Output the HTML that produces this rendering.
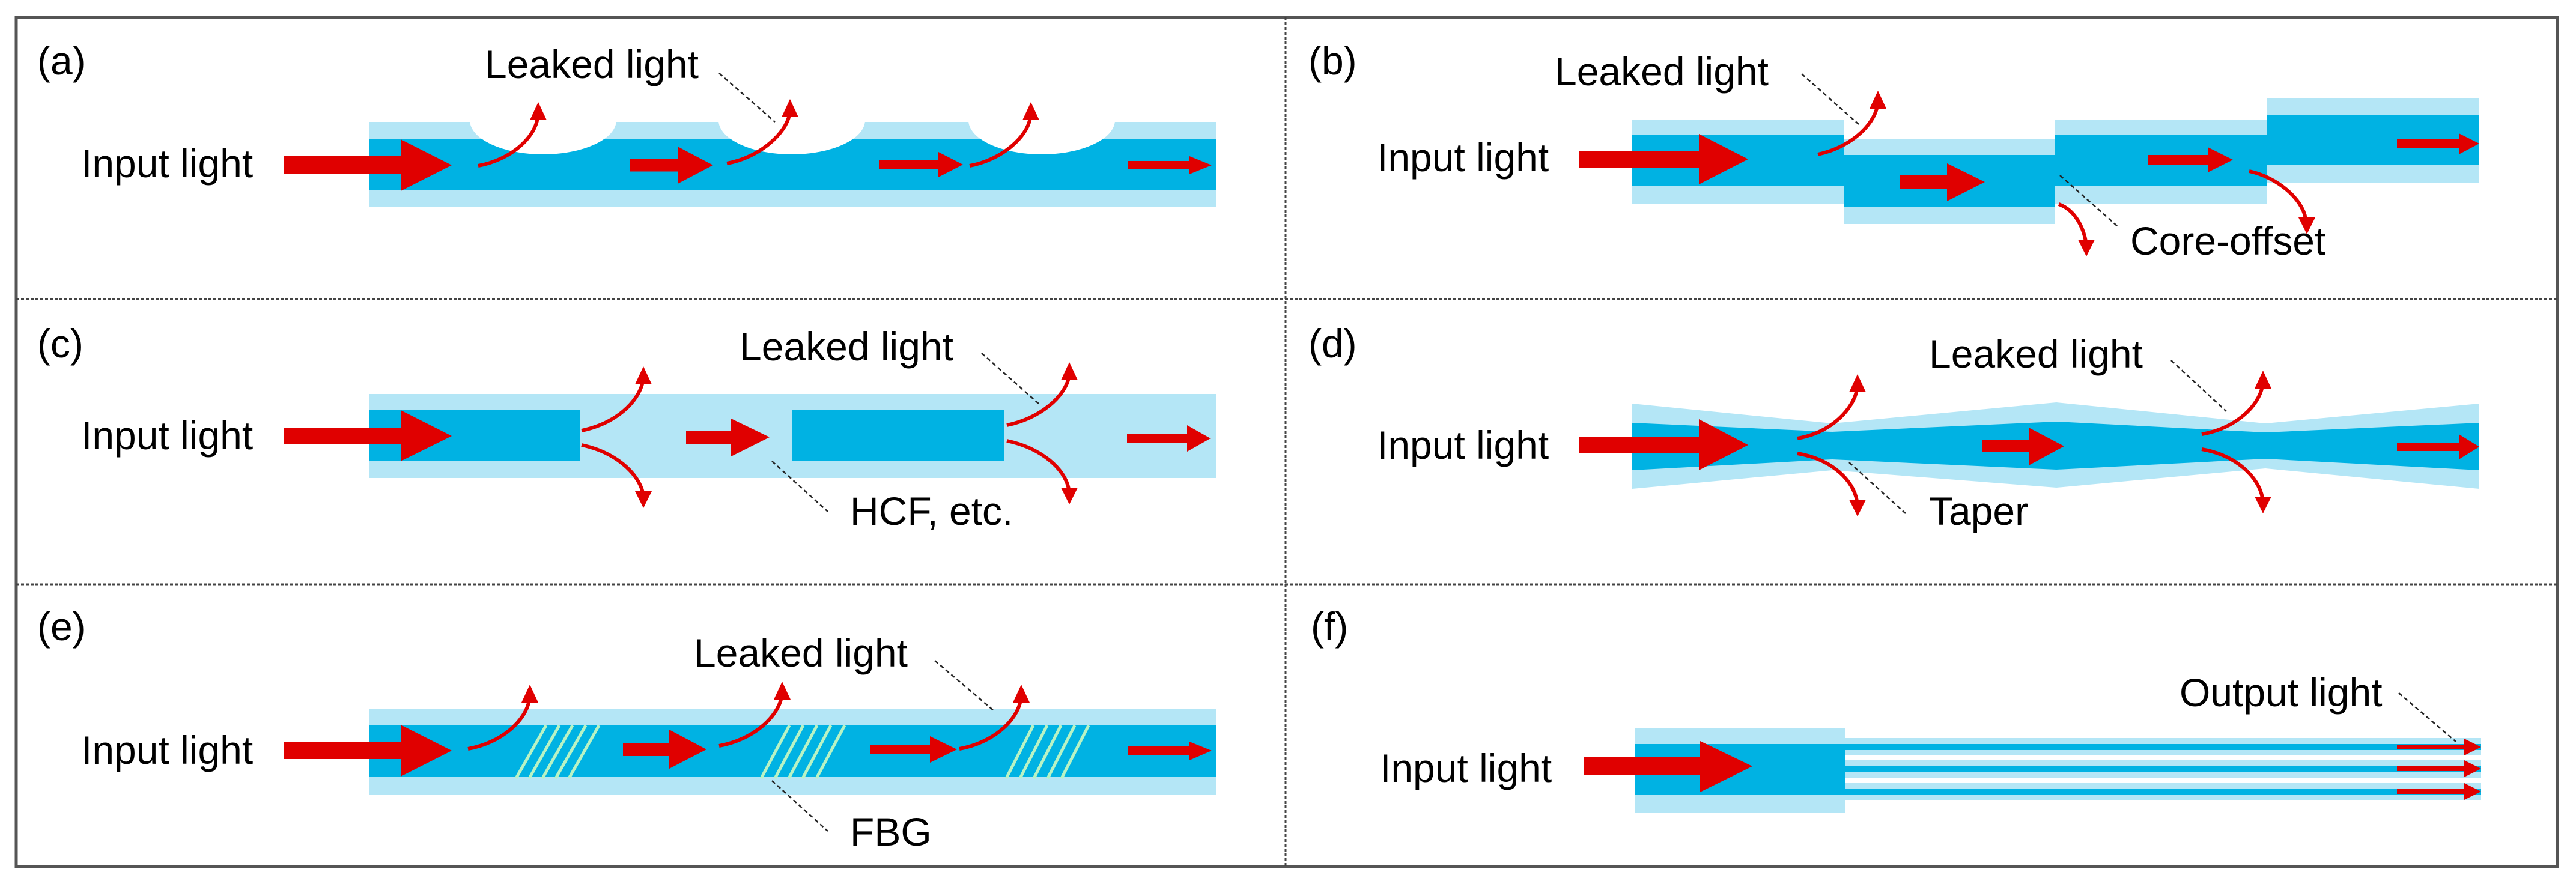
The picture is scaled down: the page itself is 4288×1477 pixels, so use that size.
<!DOCTYPE html>
<html><head><meta charset="utf-8"><style>
html,body{margin:0;padding:0;background:#fff;}
svg{display:block;}
text{font-family:"Liberation Sans",Arial,sans-serif;font-size:66px;fill:#000;}
</style></head><body>
<svg width="4288" height="1477" viewBox="0 0 4288 1477" xmlns="http://www.w3.org/2000/svg">
<defs>
<g id="upA"><polygon points="0,0 -14,30 14,30" fill="#e00000"/></g>
</defs>
<rect x="0" y="0" width="4288" height="1477" fill="#fff"/>
<!-- frame -->
<rect x="27" y="29" width="4230" height="1414" fill="none" stroke="#555" stroke-width="5"/>
<g stroke="#444" stroke-width="3" stroke-dasharray="5,3" fill="none">
<line x1="2140" y1="29" x2="2140" y2="1443"/>
<line x1="27" y1="498" x2="4257" y2="498"/>
<line x1="27" y1="973" x2="4257" y2="973"/>
</g>

<!-- ===== (a) ===== -->
<text x="62" y="124">(a)</text>
<text x="807" y="130">Leaked light</text>
<text x="135" y="295">Input light</text>
<rect x="615" y="203" width="1409" height="142" fill="#b4e6f6"/>
<rect x="615" y="232" width="1409" height="84" fill="#00b2e3"/>
<ellipse cx="904" cy="200" rx="122" ry="57" fill="#fff"/>
<ellipse cx="1318" cy="200" rx="122" ry="57" fill="#fff"/>
<ellipse cx="1734" cy="200" rx="122" ry="57" fill="#fff"/>
<rect x="615" y="150" width="1409" height="53" fill="#fff"/>
<g id="arrA" fill="#e00000">
<polygon points="472,260 667,260 667,232 752,275 667,318 667,289 472,289"/>
<polygon points="1049,264.5 1128,264.5 1128,244 1187,275 1128,306 1128,285.5 1049,285.5"/>
<polygon points="1463,266 1562,266 1562,253 1603,274 1562,295 1562,282 1463,282"/>
<polygon points="1877,268 1980,268 1980,260 2017,275 1980,290 1980,282 1877,282"/>
</g>
<g fill="none" stroke="#e00000" stroke-width="6">
<path d="M796,276 C850,266 890,230 895,196"/>
<path d="M1210,272 C1265,262 1308,222 1314,191"/>
<path d="M1614,276 C1668,266 1710,228 1715,196"/>
</g>
<use href="#upA" x="896" y="170"/><use href="#upA" x="1315" y="165"/><use href="#upA" x="1716" y="170"/>
<line x1="1197" y1="122" x2="1290" y2="203" stroke="#222" stroke-width="2.5" stroke-dasharray="7,5"/>

<!-- ===== (b) ===== -->
<text x="2178" y="124">(b)</text>
<text x="2588" y="142">Leaked light</text>
<text x="2292" y="285">Input light</text>
<rect x="2717" y="199" width="353" height="141" fill="#b4e6f6"/>
<rect x="3070" y="232" width="351" height="141" fill="#b4e6f6"/>
<rect x="3421" y="199" width="353" height="141" fill="#b4e6f6"/>
<rect x="3774" y="163" width="353" height="141" fill="#b4e6f6"/>
<rect x="2717" y="225" width="353" height="84" fill="#00b2e3"/>
<rect x="3070" y="258" width="351" height="86" fill="#00b2e3"/>
<rect x="3421" y="225" width="353" height="84" fill="#00b2e3"/>
<rect x="3774" y="192" width="353" height="83" fill="#00b2e3"/>
<g fill="#e00000">
<polygon points="2629,251 2828,251 2828,223 2910,265 2828,307 2828,279 2629,279"/>
<polygon points="3163,292 3241,292 3241,272 3304,303 3241,335 3241,314 3163,314"/>
<polygon points="3576,258 3675,258 3675,245 3717,266 3675,287 3675,275 3576,275"/>
<polygon points="3990,232 4093,232 4093,222 4127,239 4093,257 4093,246 3990,246"/>
</g>
<g fill="none" stroke="#e00000" stroke-width="6">
<path d="M3026,257 C3080,245 3118,210 3125,177"/>
<path d="M3427,340 C3455,350 3468,380 3472,402"/>
<path d="M3744,285 C3790,295 3832,330 3838,364"/>
</g>
<use href="#upA" x="3126" y="151"/>
<polygon points="3473,427 3459,399 3487,399" fill="#e00000"/>
<polygon points="3840,390 3826,362 3854,362" fill="#e00000"/>
<g stroke="#222" stroke-width="2.5" stroke-dasharray="7,5">
<line x1="2999" y1="123" x2="3094" y2="207"/>
<line x1="3429" y1="292" x2="3525" y2="377"/>
</g>
<text x="3546" y="424">Core-offset</text>

<!-- ===== (c) ===== -->
<text x="62" y="595">(c)</text>
<text x="1231" y="600">Leaked light</text>
<text x="135" y="748">Input light</text>
<rect x="615" y="656" width="1409" height="140" fill="#b4e6f6"/>
<rect x="615" y="682" width="350" height="86" fill="#00b2e3"/>
<rect x="1318" y="682" width="353" height="86" fill="#00b2e3"/>
<g fill="#e00000">
<polygon points="472,712 667,712 667,683 752,726 667,768 667,740 472,740"/>
<polygon points="1142,718 1217,718 1217,697 1281,728 1217,760 1217,739 1142,739"/>
<polygon points="1876,723 1976,723 1976,708 2015,730 1976,752 1976,737 1876,737"/>
</g>
<g fill="none" stroke="#e00000" stroke-width="6">
<path d="M968,717 C1025,705 1062,670 1070,636"/>
<path d="M968,741 C1025,753 1062,788 1070,820"/>
<path d="M1676,708 C1733,696 1772,660 1779,629"/>
<path d="M1676,734 C1733,746 1772,780 1779,814"/>
</g>
<use href="#upA" x="1071" y="610"/><use href="#upA" x="1780" y="603"/>
<polygon points="1071,846 1057,818 1085,818" fill="#e00000"/>
<polygon points="1780,840 1766,812 1794,812" fill="#e00000"/>
<g stroke="#222" stroke-width="2.5" stroke-dasharray="7,5">
<line x1="1634" y1="588" x2="1730" y2="673"/>
<line x1="1285" y1="768" x2="1378" y2="852"/>
</g>
<text x="1415" y="874">HCF, etc.</text>

<!-- ===== (d) ===== -->
<text x="2178" y="595">(d)</text>
<text x="3211" y="612">Leaked light</text>
<text x="2292" y="764">Input light</text>
<polygon points="2717,672 3050,705 3423,670 3771,705 4127,672 4127,814 3771,780 3423,812 3050,783 2717,814" fill="#b4e6f6"/>
<polygon points="2717,704 3050,719 3423,702 3771,720 4127,704 4127,783 3771,764 3423,782 3050,765 2717,783" fill="#00b2e3"/>
<g fill="#e00000">
<polygon points="2629,727 2828,727 2828,698 2910,741 2828,783 2828,755 2629,755"/>
<polygon points="3299,732 3377,732 3377,712 3436,743 3377,775 3377,753 3299,753"/>
<polygon points="3990,737 4093,737 4093,723 4127,744 4093,765 4093,751 3990,751"/>
</g>
<g fill="none" stroke="#e00000" stroke-width="6">
<path d="M2992,730 C3050,720 3085,680 3091,649"/>
<path d="M2992,755 C3050,765 3085,800 3091,834"/>
<path d="M3665,723 C3723,713 3760,675 3766,643"/>
<path d="M3665,748 C3723,758 3760,795 3766,829"/>
</g>
<use href="#upA" x="3092" y="623"/><use href="#upA" x="3767" y="617"/>
<polygon points="3092,860 3078,832 3106,832" fill="#e00000"/>
<polygon points="3767,855 3753,827 3781,827" fill="#e00000"/>
<g stroke="#222" stroke-width="2.5" stroke-dasharray="7,5">
<line x1="3614" y1="600" x2="3706" y2="685"/>
<line x1="3078" y1="770" x2="3172" y2="855"/>
</g>
<text x="3211" y="874">Taper</text>

<!-- ===== (e) ===== -->
<text x="62" y="1066">(e)</text>
<text x="1155" y="1110">Leaked light</text>
<text x="135" y="1272">Input light</text>
<rect x="615" y="1180" width="1409" height="144" fill="#b4e6f6"/>
<rect x="615" y="1208" width="1409" height="85" fill="#00b2e3"/>
<g stroke="#b8f3c4" stroke-width="5">
<line x1="909" y1="1208" x2="859" y2="1296"/><line x1="931" y1="1208" x2="881" y2="1296"/><line x1="953" y1="1208" x2="903" y2="1296"/><line x1="975" y1="1208" x2="925" y2="1296"/><line x1="997" y1="1208" x2="947" y2="1296"/>
<line x1="1314" y1="1208" x2="1267" y2="1296"/><line x1="1337" y1="1208" x2="1290" y2="1296"/><line x1="1360" y1="1208" x2="1313" y2="1296"/><line x1="1383" y1="1208" x2="1336" y2="1296"/><line x1="1406" y1="1208" x2="1359" y2="1296"/>
<line x1="1720" y1="1208" x2="1675" y2="1296"/><line x1="1743" y1="1208" x2="1698" y2="1296"/><line x1="1766" y1="1208" x2="1721" y2="1296"/><line x1="1789" y1="1208" x2="1744" y2="1296"/><line x1="1812" y1="1208" x2="1767" y2="1296"/>
</g>
<g fill="#e00000">
<polygon points="472,1235 667,1235 667,1207 752,1250 667,1293 667,1264 472,1264"/>
<polygon points="1037,1238 1114,1238 1114,1215 1176,1248 1114,1280 1114,1259 1037,1259"/>
<polygon points="1449,1241 1548,1241 1548,1226 1593,1248 1548,1270 1548,1256 1449,1256"/>
<polygon points="1877,1243 1980,1243 1980,1235 2017,1250 1980,1266 1980,1257 1877,1257"/>
</g>
<g fill="none" stroke="#e00000" stroke-width="6">
<path d="M779,1247 C835,1237 875,1200 881,1166"/>
<path d="M1197,1242 C1253,1232 1294,1195 1301,1161"/>
<path d="M1597,1247 C1653,1237 1693,1200 1699,1166"/>
</g>
<use href="#upA" x="882" y="1140"/><use href="#upA" x="1302" y="1135"/><use href="#upA" x="1700" y="1140"/>
<g stroke="#222" stroke-width="2.5" stroke-dasharray="7,5">
<line x1="1556" y1="1100" x2="1655" y2="1184"/>
<line x1="1285" y1="1300" x2="1378" y2="1384"/>
</g>
<text x="1415" y="1408">FBG</text>

<!-- ===== (f) ===== -->
<text x="2182" y="1066">(f)</text>
<text x="3628" y="1176">Output light</text>
<text x="2297" y="1302">Input light</text>
<rect x="2722" y="1213" width="349" height="140" fill="#b4e6f6"/>
<rect x="2722" y="1239" width="349" height="84" fill="#00b2e3"/>
<rect x="3071" y="1229" width="1059" height="29" fill="#b4e6f6"/>
<rect x="3071" y="1266" width="1059" height="29" fill="#b4e6f6"/>
<rect x="3071" y="1303" width="1059" height="29" fill="#b4e6f6"/>
<rect x="3071" y="1239" width="1059" height="10" fill="#00b2e3"/>
<rect x="3071" y="1276" width="1059" height="10" fill="#00b2e3"/>
<rect x="3071" y="1313" width="1059" height="10" fill="#00b2e3"/>
<g fill="#e00000">
<polygon points="2636,1261 2830,1261 2830,1234 2917,1276 2830,1319 2830,1290 2636,1290"/>
<polygon points="3990,1240 4102,1240 4102,1230 4130,1244 4102,1258 4102,1248 3990,1248"/>
<polygon points="3990,1276 4102,1276 4102,1266 4130,1280 4102,1294 4102,1284 3990,1284"/>
<polygon points="3990,1314 4102,1314 4102,1304 4130,1318 4102,1332 4102,1322 3990,1322"/>
</g>
<line x1="3993" y1="1154" x2="4088" y2="1235" stroke="#222" stroke-width="2.5" stroke-dasharray="7,5"/>
</svg>
</body></html>
